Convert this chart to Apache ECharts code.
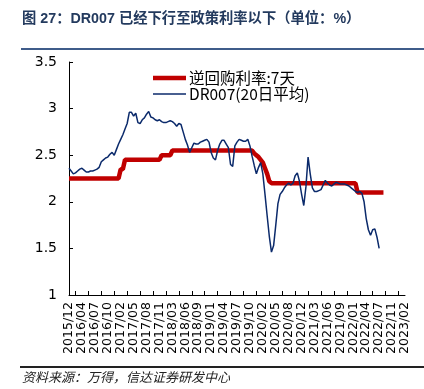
<!DOCTYPE html>
<html>
<head>
<meta charset="utf-8">
<script src="https://cdn.jsdelivr.net/npm/echarts@6/dist/echarts.min.js"></script>
<style>
html,body{margin:0;padding:0;background:#fff;}
#chart{width:424px;height:389px;}
</style>
</head>
<body>
<div id="chart"></div>
<script>
// x-axis tick labels (one every 6 data points)
const tickLabels = ['2015/12','2016/04','2016/07','2016/10','2017/02','2017/05','2017/08','2017/11',
  '2018/03','2018/06','2018/09','2019/01','2019/04','2019/07','2019/10','2020/02','2020/05','2020/08',
  '2020/12','2021/03','2021/06','2021/09','2022/01','2022/04','2022/07','2022/11','2023/02'];
const pointsPerTick = 6;

// series names
const seriesNames = ['逆回购利率:7天', 'DR007(20日平均)'];

// DR007 (20-day average), %
const dr007 = [
  2.36,2.33,2.30,2.31,2.33,2.35,2.36,2.34,2.32,2.32,
  2.33,2.33,2.34,2.35,2.37,2.43,2.45,2.47,2.48,2.51,
  2.53,2.50,2.56,2.62,2.67,2.72,2.78,2.84,2.96,2.96,
  2.92,2.95,2.85,2.84,2.88,2.90,2.94,2.97,2.91,2.90,
  2.88,2.87,2.88,2.86,2.85,2.85,2.86,2.87,2.86,2.84,
  2.81,2.84,2.83,2.75,2.67,2.61,2.53,2.58,2.63,2.62,
  2.62,2.64,2.65,2.66,2.67,2.64,2.53,2.47,2.45,2.55,
  2.62,2.66,2.66,2.62,2.58,2.40,2.38,2.60,2.64,2.67,
  2.66,2.65,2.65,2.67,2.60,2.49,2.39,2.30,2.37,2.42,
  2.30,2.08,1.85,1.63,1.46,1.53,1.75,1.98,2.08,2.11,
  2.15,2.18,2.20,2.18,2.20,2.28,2.31,2.22,2.08,1.96,
  2.16,2.48,2.30,2.15,2.11,2.11,2.12,2.13,2.18,2.23,
  2.20,2.18,2.17,2.19,2.21,2.20,2.19,2.19,2.19,2.18,
  2.17,2.15,2.13,2.11,2.10,2.11,2.09,2.00,1.82,1.70,
  1.64,1.70,1.71,1.62,1.50
];

// 7-day reverse repo rate, %
const repo7d = [
  2.25,2.25,2.25,2.25,2.25,2.25,2.25,2.25,2.25,2.25,
  2.25,2.25,2.25,2.25,2.25,2.25,2.25,2.25,2.25,2.25,
  2.25,2.25,2.25,2.25,2.35,2.35,2.45,2.45,2.45,2.45,
  2.45,2.45,2.45,2.45,2.45,2.45,2.45,2.45,2.45,2.45,
  2.45,2.45,2.45,2.50,2.50,2.50,2.50,2.50,2.55,2.55,
  2.55,2.55,2.55,2.55,2.55,2.55,2.55,2.55,2.55,2.55,
  2.55,2.55,2.55,2.55,2.55,2.55,2.55,2.55,2.55,2.55,
  2.55,2.55,2.55,2.55,2.55,2.55,2.55,2.55,2.55,2.55,
  2.55,2.55,2.55,2.55,2.55,2.55,2.52,2.50,2.48,2.45,
  2.42,2.36,2.30,2.22,2.20,2.20,2.20,2.20,2.20,2.20,
  2.20,2.20,2.20,2.20,2.20,2.20,2.20,2.20,2.20,2.20,
  2.20,2.20,2.20,2.20,2.20,2.20,2.20,2.20,2.20,2.20,
  2.20,2.20,2.20,2.20,2.20,2.20,2.20,2.20,2.20,2.20,
  2.20,2.20,2.20,2.20,2.10,2.10,2.10,2.10,2.10,2.10,
  2.10,2.10,2.10,2.10,2.10,2.10,2.10
];

const nCat = (tickLabels.length - 1) * pointsPerTick + 1;
const categories = [];
for (let i = 0; i < nCat; i++) {
  const t = Math.floor(i / pointsPerTick), r = i % pointsPerTick;
  categories.push(r === 0 ? tickLabels[t] : tickLabels[t] + '#' + r);
}

const RED = '#c00000', BLUE = '#0b2a6b';
const chart = echarts.init(document.getElementById('chart'), null, {renderer: 'canvas'});
chart.setOption({
  animation: false,
  backgroundColor: '#fff',
  grid: {left: 69, right: 19, top: 62, bottom: 94, containLabel: false},
  xAxis: {
    type: 'category', boundaryGap: false, data: categories,
    axisLine: {lineStyle: {color: '#000', width: 1}},
    axisTick: {inside: true, length: 4, lineStyle: {color: '#000'},
      interval: (idx) => idx % pointsPerTick === pointsPerTick / 2},
    axisLabel: {interval: pointsPerTick - 1, rotate: 90, margin: 7, color: '#000',
      fontFamily: 'DejaVu Sans', fontSize: 12.5, formatter: (v) => v},
    splitLine: {show: false}
  },
  yAxis: {
    type: 'value', min: 1, max: 3.5, interval: 0.5,
    axisLine: {show: true, lineStyle: {color: '#000', width: 1}},
    axisTick: {show: true, inside: true, length: 4, lineStyle: {color: '#000'}},
    axisLabel: {margin: 12, color: '#000', fontFamily: 'DejaVu Sans', fontSize: 14},
    splitLine: {show: false}
  },
  series: [
    {name: seriesNames[0], type: 'line', data: repo7d, symbol: 'none', z: 2,
      lineStyle: {color: RED, width: 4.5}, itemStyle: {color: RED}},
    {name: seriesNames[1], type: 'line', data: dr007, symbol: 'none', z: 3,
      lineStyle: {color: BLUE, width: 1.5}, itemStyle: {color: BLUE}}
  ],
  graphic: [
    {type: 'text', left: 22, top: 12, style: {text: '图 27：DR007 已经下行至政策利率以下（单位：%）',
      font: "bold 14.3px 'Liberation Sans', 'Noto Sans CJK SC'", fill: '#233a5e'}},
    {type: 'rect', shape: {x: 21, y: 48, width: 403, height: 2}, style: {fill: '#3f5c8a'}},
    // legend
    {type: 'line', shape: {x1: 153, y1: 78, x2: 186, y2: 78}, style: {stroke: RED, lineWidth: 4.5}},
    {type: 'text', x: 189, y: 78, style: {text: seriesNames[0], font: "15.5px 'Noto Sans CJK SC'",
      fill: '#000', verticalAlign: 'middle'}},
    {type: 'line', shape: {x1: 153, y1: 94, x2: 186, y2: 94}, style: {stroke: BLUE, lineWidth: 1.5}},
    {type: 'text', x: 189, y: 94, style: {text: seriesNames[1], font: "15.5px 'Noto Sans CJK SC'",
      fill: '#000', verticalAlign: 'middle'}},
    {type: 'rect', shape: {x: 20, y: 366, width: 404, height: 2}, style: {fill: '#222'}},
    {type: 'text', left: 22, top: 371, style: {text: '资料来源：万得，信达证券研发中心',
      font: "italic 13px 'Noto Sans CJK SC'", fill: '#222'}}
  ]
});
</script>
</body>
</html>
